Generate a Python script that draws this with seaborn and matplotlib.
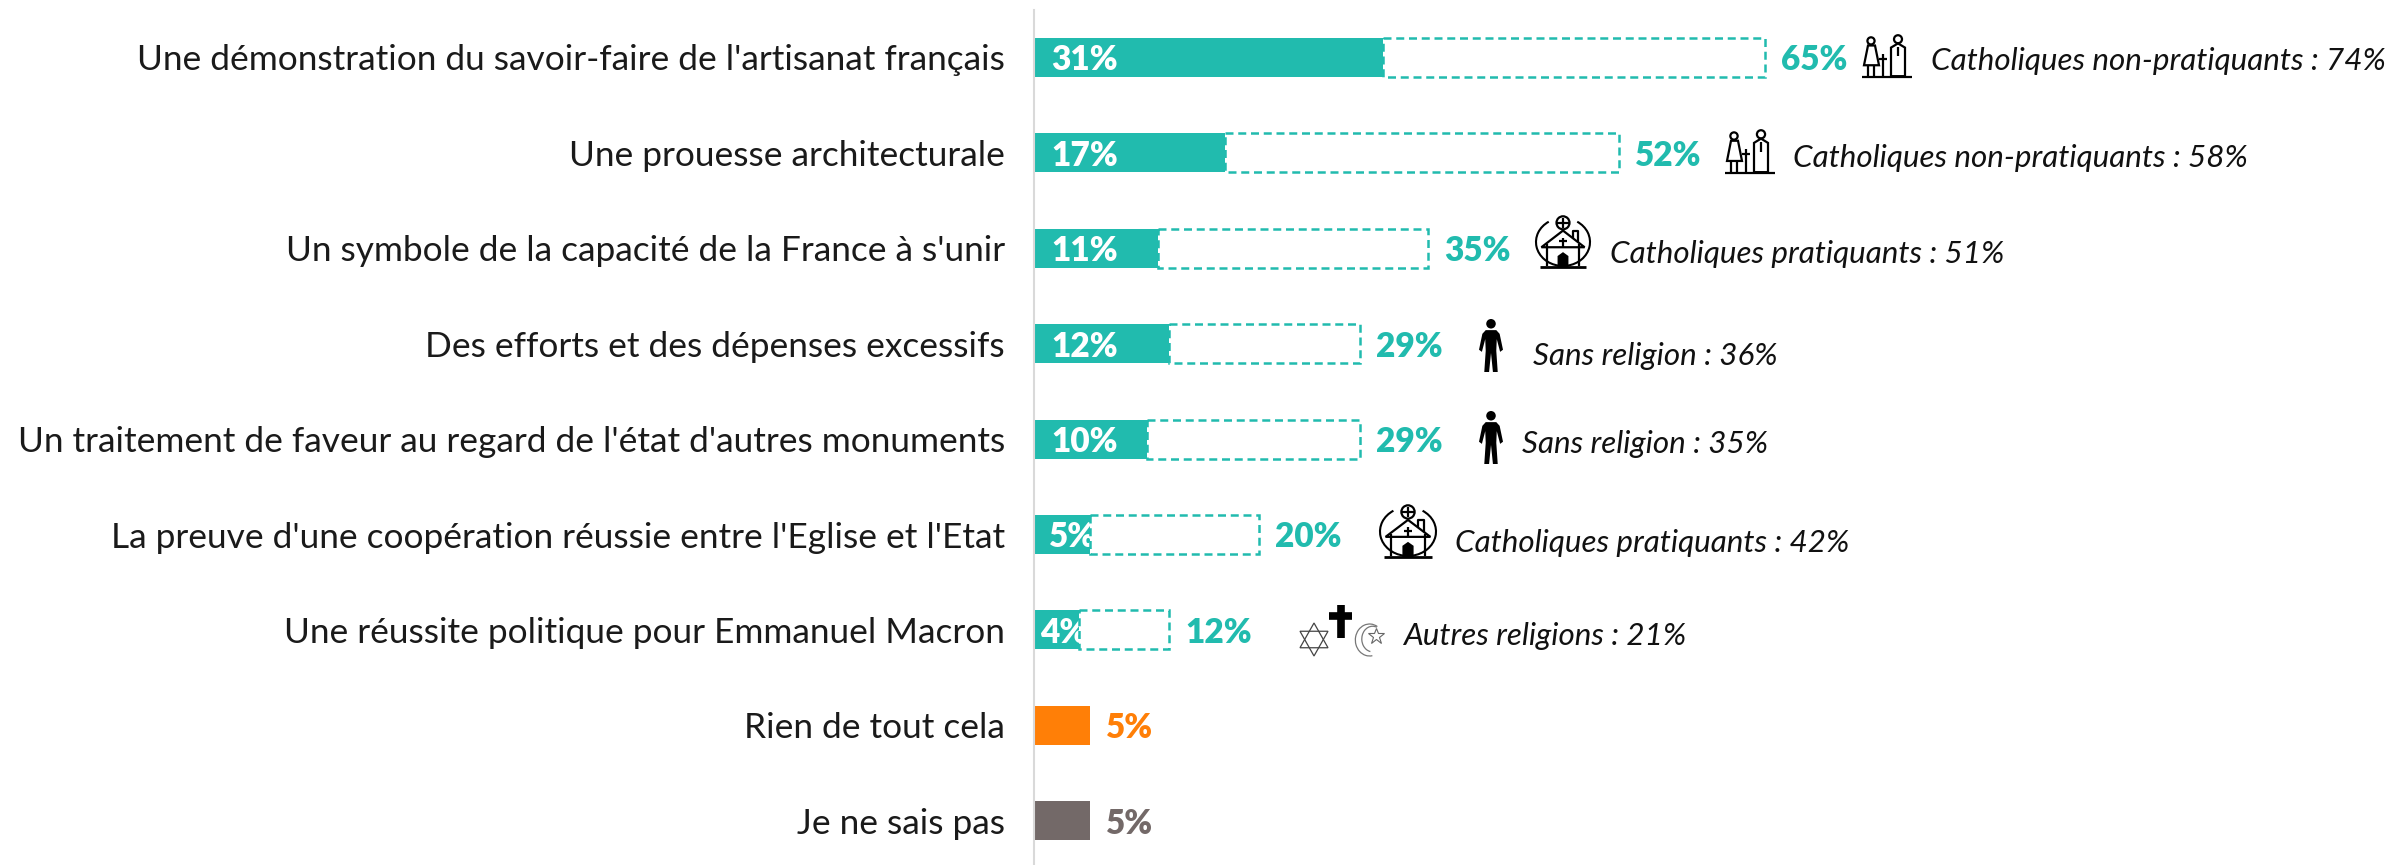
import matplotlib
matplotlib.use("Agg")
import matplotlib.pyplot as plt
import numpy as np
import pandas as pd
import seaborn as sns
from matplotlib.patches import Arc, Circle, Polygon

# Data
categories = [
    "Une démonstration du savoir-faire de l'artisanat français",
    "Une prouesse architecturale",
    "Un symbole de la capacité de la France à s'unir",
    "Des efforts et des dépenses excessifs",
    "Un traitement de faveur au regard de l'état d'autres monuments",
    "La preuve d'une coopération réussie entre l'Eglise et l'Etat",
    "Une réussite politique pour Emmanuel Macron",
    "Rien de tout cela",
    "Je ne sais pas",
]
first_choice = [31, 17, 11, 12, 10, 5, 4, 5, 5]
total_choice = [65, 52, 35, 29, 29, 20, 12]
notes = [
    "Catholiques non-pratiquants : 74%",
    "Catholiques non-pratiquants : 58%",
    "Catholiques pratiquants : 51%",
    "Sans religion : 36%",
    "Sans religion : 35%",
    "Catholiques pratiquants : 42%",
    "Autres religions : 21%",
]

# Layout, in pixels of the 2400x865 figure
TEAL = "#21BBAE"
ORANGE = "#FF7F07"
GREY = "#736968"
AXIS_PX = 1034
PX_PER_PCT = 11.25
ROW0_PX = 57.5
ROW_PX = 95.4
TEXT_DROP = 0.03
note_x = [1931, 1793, 1610, 1533, 1522, 1455, 1403]
note_y = [61, 158, 254, 356, 444, 543, 636]
inner_x = [1051, 1051, 1051, 1051, 1051, 1049, 1040]

sns.set_theme(style="white")
plt.rcParams["font.family"] = ["Lato", "DejaVu Sans"]

fig = plt.figure(figsize=(24, 8.65), dpi=100)
ax = fig.add_axes([AXIS_PX / 2400, 0, 1 - AXIS_PX / 2400, 1])

df = pd.DataFrame({"label": categories, "first": first_choice})
bar_colors = [TEAL] * 7 + [ORANGE, GREY]
sns.barplot(data=df, x="first", y="label", hue="label", order=categories,
            palette=bar_colors, legend=False, width=0.41, saturation=1,
            linewidth=0, zorder=2, ax=ax)

# Dashed white boxes start where the solid bar stops, and hide part of the small labels
top = df.iloc[:7].copy()
top["gap"] = np.array(total_choice) - top["first"]
sns.barplot(data=top, x="gap", y="label", order=categories[:7], left=top["first"].values,
            color="white", saturation=1, edgecolor=TEAL, linewidth=1.8,
            linestyle=(0, (3.2, 1.9)), width=0.41, zorder=4, ax=ax)

ax.set_xlim(0, (2400 - AXIS_PX) / PX_PER_PCT)
ax.set_ylim((865 - ROW0_PX) / ROW_PX, -ROW0_PX / ROW_PX)
ax.set_yticks(range(len(categories)))
ax.set_yticklabels(categories, fontsize=25.4, color="#1a1a1a")
ax.tick_params(axis="y", length=0, pad=21)
ax.set_xticks([])
ax.set_xlabel("")
ax.set_ylabel("")
sns.despine(ax=ax, left=False, bottom=True)
ax.spines["left"].set_color("#D9D9D9")
ax.spines["left"].set_linewidth(1.5)
ax.spines["left"].set_bounds((865 - ROW0_PX) / ROW_PX, (10 - ROW0_PX) / ROW_PX)
ax.patch.set_alpha(0)

# Value labels
for i, val in enumerate(first_choice[:7]):
    ax.text((inner_x[i] - AXIS_PX) / PX_PER_PCT, i + TEXT_DROP, f"{val}%", color="white", fontsize=24,
            fontweight="heavy", va="center", ha="left", zorder=3)
for i, val in enumerate(total_choice):
    ax.text(val + 16 / PX_PER_PCT, i + TEXT_DROP, f"{val}%", color=TEAL, fontsize=24,
            fontweight="heavy", va="center", ha="left", zorder=5)
ax.text(5 + 16 / PX_PER_PCT, 7 + TEXT_DROP, "5%", color=ORANGE, fontsize=24, fontweight="heavy", va="center", zorder=5)
ax.text(5 + 16 / PX_PER_PCT, 8 + TEXT_DROP, "5%", color=GREY, fontsize=24, fontweight="heavy", va="center", zorder=5)

# Overlay in figure pixels for the notes and the little icons
ov = fig.add_axes([0, 0, 1, 1])
ov.set_xlim(0, 2400)
ov.set_ylim(865, 0)
ov.axis("off")
for x, y, note in zip(note_x, note_y, notes):
    ov.text(x, y, note, fontsize=22.6, fontstyle="italic", va="center", ha="left", color="#111111")


def line(pts, x0, y0, w, h, lw=1.6, color="black"):
    pts = np.array(pts)
    ov.plot(x0 + pts[:, 0] * w, y0 + pts[:, 1] * h, color=color, lw=lw, solid_capstyle="butt")


def poly(pts, x0, y0, w, h, fill="none", lw=1.6, edge="black"):
    pts = np.array(pts)
    ov.add_patch(Polygon(np.c_[x0 + pts[:, 0] * w, y0 + pts[:, 1] * h], closed=True,
                         facecolor=fill, edgecolor=edge, lw=lw))


def draw_person(x0, y0, w, h):
    ov.add_patch(Circle((x0 + 0.5 * w, y0 + 0.09 * h), 0.09 * h, color="black", lw=0))
    poly([(0.28, 0.21), (0.72, 0.21), (0.86, 0.28), (1.0, 0.58), (0.88, 0.62), (0.74, 0.38),
          (0.72, 0.60), (0.78, 1.0), (0.58, 1.0), (0.5, 0.64), (0.42, 1.0), (0.22, 1.0),
          (0.28, 0.60), (0.26, 0.38), (0.12, 0.62), (0.0, 0.58), (0.14, 0.28)],
         x0, y0, w, h, fill="black", lw=0)


def draw_couple(x0, y0, w, h):
    ov.add_patch(Circle((x0 + 0.18 * w, y0 + 0.14 * h), 0.085 * h, fc="none", ec="black", lw=1.6))
    poly([(0.12, 0.25), (0.26, 0.25), (0.34, 0.72), (0.04, 0.72)], x0, y0, w, h)
    line([(0.12, 0.72), (0.12, 0.98)], x0, y0, w, h)
    line([(0.24, 0.72), (0.24, 0.98)], x0, y0, w, h)
    line([(0.42, 0.45), (0.42, 0.98)], x0, y0, w, h)
    line([(0.34, 0.56), (0.50, 0.56)], x0, y0, w, h)
    ov.add_patch(Circle((x0 + 0.72 * w, y0 + 0.10 * h), 0.095 * h, fc="none", ec="black", lw=1.6))
    poly([(0.58, 0.98), (0.58, 0.30), (0.72, 0.2), (0.86, 0.30), (0.86, 0.98)], x0, y0, w, h)
    line([(0.72, 0.28), (0.72, 0.5)], x0, y0, w, h)
    line([(0.0, 1.0), (1.0, 1.0)], x0, y0, w, h)


def draw_church(x0, y0, w, h):
    cx, cy = x0 + 0.5 * w, y0 + 0.52 * h
    ov.add_patch(Arc((cx, cy), w, 0.92 * h, theta1=100, theta2=235, color="black", lw=1.5))
    ov.add_patch(Arc((cx, cy), w, 0.92 * h, theta1=-55, theta2=80, color="black", lw=1.5))
    ov.add_patch(Circle((x0 + 0.5 * w, y0 + 0.15 * h), 0.125 * h, fc="none", ec="black", lw=1.6))
    line([(0.5, 0.05), (0.5, 0.25)], x0, y0, w, h)
    line([(0.39, 0.15), (0.61, 0.15)], x0, y0, w, h)
    poly([(0.1, 0.62), (0.5, 0.30), (0.9, 0.62)], x0, y0, w, h, lw=1.6)
    line([(0.2, 0.56), (0.2, 0.98)], x0, y0, w, h)
    line([(0.8, 0.56), (0.8, 0.98)], x0, y0, w, h)
    line([(0.68, 0.44), (0.68, 0.30), (0.78, 0.30), (0.78, 0.52)], x0, y0, w, h)
    line([(0.5, 0.44), (0.5, 0.62)], x0, y0, w, h)
    line([(0.43, 0.50), (0.57, 0.50)], x0, y0, w, h)
    poly([(0.42, 0.98), (0.42, 0.80), (0.5, 0.74), (0.58, 0.80), (0.58, 0.98)], x0, y0, w, h, fill="black")
    line([(0.08, 1.0), (0.92, 1.0)], x0, y0, w, h, lw=2)


def draw_star_of_david(x0, y0, w, h):
    poly([(0.5, 0.0), (1.0, 0.75), (0.0, 0.75)], x0, y0, w, h, lw=0.9, edge="#444444")
    poly([(0.5, 1.0), (1.0, 0.25), (0.0, 0.25)], x0, y0, w, h, lw=0.9, edge="#444444")


def draw_cross(x0, y0, w, h):
    line([(0.5, 0.0), (0.5, 1.0)], x0, y0, w, h, lw=5.5)
    line([(0.0, 0.32), (1.0, 0.32)], x0, y0, w, h, lw=5.5)


def draw_crescent(x0, y0, w, h):
    cx, cy = x0 + 0.52 * w, y0 + 0.5 * h
    ov.add_patch(Arc((cx, cy), 0.95 * w, h, theta1=80, theta2=300, color="#777777", lw=0.9))
    ov.add_patch(Arc((cx + 0.1 * w, cy - 0.03 * h), 0.72 * w, 0.8 * h, theta1=100, theta2=290, color="#777777", lw=0.9))
    ov.plot([x0 + 0.72 * w], [y0 + 0.36 * h], marker="*", ms=12, mfc="none", mec="#666666", mew=0.8)


draw_couple(1862, 35, 50, 42)
draw_couple(1725, 130, 50, 43)
draw_church(1536, 215, 54, 52)
draw_person(1479, 319, 24, 53)
draw_person(1479, 411, 24, 53)
draw_church(1380, 504, 56, 53)
draw_star_of_david(1300, 623, 28, 33)
draw_cross(1329, 605, 23, 33)
draw_crescent(1354, 624, 30, 32)

fig.savefig("out.png", dpi=100)
